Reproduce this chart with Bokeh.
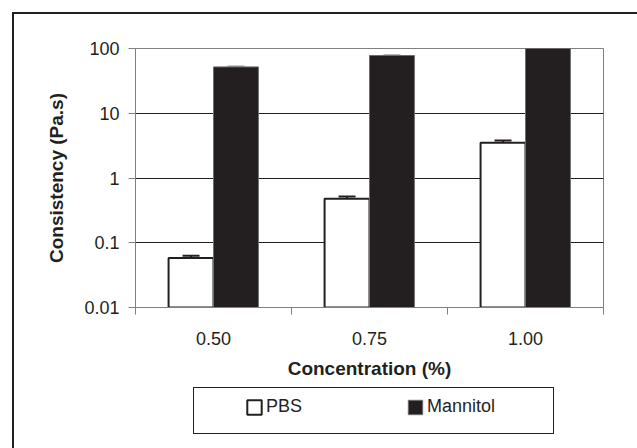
from bokeh.plotting import figure
from bokeh.layouts import column
from bokeh.models import (FixedTicker, Legend, LegendItem, Whisker,
                          TeeHead, ColumnDataSource, Range1d)
from bokeh.embed import file_html
from bokeh.resources import INLINE

categories = ["0.50", "0.75", "1.00"]
pbs = [0.058, 0.48, 3.5]
pbs_err = [0.005, 0.04, 0.3]
mannitol = [52.0, 78.0, 100.0]
mannitol_err = [1.5, 1.5, 2.0]
series_names = ["PBS", "Mannitol"]
y_ticks = [0.01, 0.1, 1, 10, 100]
y_tick_labels = ["0.01", "0.1", "1", "10", "100"]

FONT = "Liberation Sans"
INK = "#231f20"
PBS_STYLE = dict(fill_color="white", line_color=INK, line_width=2)
MAN_STYLE = dict(fill_color=INK, line_color="#6d6d6d", line_width=1)

idx = list(range(len(categories)))
centers = [i + 0.5 for i in idx]
off = 0.144
bw = 0.288


def rule(x, y, w, t):
    return f"linear-gradient({INK},{INK}) {x}px {y}px / {w}px {t}px no-repeat"


# ---------------- main chart ----------------
p = figure(width=637, height=387, y_axis_type="log", output_backend="svg",
           toolbar_location=None, x_range=Range1d(0, len(categories)),
           y_range=Range1d(0.01, 100),
           min_border_left=135, min_border_right=34, min_border_top=48, min_border_bottom=80)
# outer page frame (left and top edges; right/bottom fall outside the picture)
p.styles = {"background": ", ".join([rule(12, 12, 2, 2000), rule(12, 12, 2000, 2)]) + ", white"}
p.background_fill_color = "white"
p.border_fill_color = None
p.outline_line_color = "#808080"
p.outline_line_width = 1

src_p = ColumnDataSource(dict(x=[c - off for c in centers], top=pbs,
                              upper=[v + e for v, e in zip(pbs, pbs_err)]))
src_m = ColumnDataSource(dict(x=[c + off for c in centers], top=mannitol,
                              upper=[v + e for v, e in zip(mannitol, mannitol_err)]))

p.vbar(x="x", top="top", bottom=0.01, width=bw, source=src_p, **PBS_STYLE)
p.vbar(x="x", top="top", bottom=0.01, width=bw, source=src_m, **MAN_STYLE)

p.add_layout(Whisker(source=src_p, base="x", lower="top", upper="upper",
                     upper_head=TeeHead(size=17, line_width=2, line_color=INK),
                     lower_head=None, line_width=2, line_color=INK))
p.add_layout(Whisker(source=src_m, base="x", lower="top", upper="upper",
                     upper_head=TeeHead(size=17, line_width=1, line_color="#808080"),
                     lower_head=None, line_width=1, line_color="#808080"))

p.xaxis.ticker = FixedTicker(ticks=centers, minor_ticks=[0, 1, 2, 3])
p.xaxis.major_label_overrides = {c: lab for c, lab in zip(centers, categories)}
p.xaxis.major_tick_line_color = None
p.xaxis.minor_tick_out = 7
p.xaxis.minor_tick_in = 0
p.xaxis.minor_tick_line_color = "#808080"
p.xaxis.axis_line_color = "#808080"
p.xaxis.major_label_standoff = 17
p.xaxis.axis_label = "Concentration (%)"
p.xaxis.axis_label_standoff = 10

p.yaxis.ticker = FixedTicker(ticks=y_ticks, minor_ticks=[])
p.yaxis.major_label_overrides = {t: lab for t, lab in zip(y_ticks, y_tick_labels)}
p.yaxis.major_tick_out = 7
p.yaxis.major_tick_in = 0
p.yaxis.major_tick_line_color = "#808080"
p.yaxis.axis_line_color = "#808080"
p.yaxis.major_label_standoff = 9
p.yaxis.axis_label = "Consistency (Pa.s)"
p.yaxis.axis_label_standoff = 14

for ax in (p.xaxis[0], p.yaxis[0]):
    ax.major_label_text_font = FONT
    ax.major_label_text_font_size = "18px"
    ax.major_label_text_color = INK
    ax.axis_label_text_font = FONT
    ax.axis_label_text_font_size = "19px"
    ax.axis_label_text_font_style = "bold"
    ax.axis_label_text_color = INK

p.xgrid.grid_line_color = None
p.ygrid.ticker = FixedTicker(ticks=[0.1, 1, 10])
p.ygrid.grid_line_color = INK
p.ygrid.grid_line_width = 1

# ---------------- legend strip ----------------
lg = figure(width=637, height=61, output_backend="svg", toolbar_location=None,
            x_axis_type=None, y_axis_type=None,
            x_range=Range1d(0, 1), y_range=Range1d(0, 1),
            min_border_left=135, min_border_right=34, min_border_top=0, min_border_bottom=15)
lg.styles = {"background": ", ".join([
    rule(12, 0, 2, 2000),          # outer page frame, left edge
    rule(193, 0, 361, 1),          # legend box
    rule(193, 46, 361, 1),
    rule(193, 0, 1, 47),
    rule(553, 0, 1, 47),
]) + ", white"}
lg.border_fill_color = None
lg.background_fill_color = None
lg.outline_line_color = None
lg.grid.visible = False

# key swatches: NaN positions so nothing is drawn except their legend glyphs
nan = float("nan")
k_p = lg.vbar(x=[nan], top=[nan], bottom=[nan], width=0.1, **PBS_STYLE)
k_m = lg.vbar(x=[nan], top=[nan], bottom=[nan], width=0.1, **MAN_STYLE)

legend = Legend(items=[LegendItem(label=series_names[0], renderers=[k_p]),
                       LegendItem(label=series_names[1], renderers=[k_m])],
                orientation="horizontal", location=(110, 16),
                padding=0, spacing=60, margin=0,
                glyph_width=18, glyph_height=18, label_standoff=3, label_width=80,
                border_line_alpha=0, background_fill_alpha=0,
                label_text_font=FONT, label_text_font_size="18px",
                label_text_color=INK)
lg.add_layout(legend)

layout = column(p, lg, spacing=0)
open("out.html", "w").write(file_html(layout, INLINE))
